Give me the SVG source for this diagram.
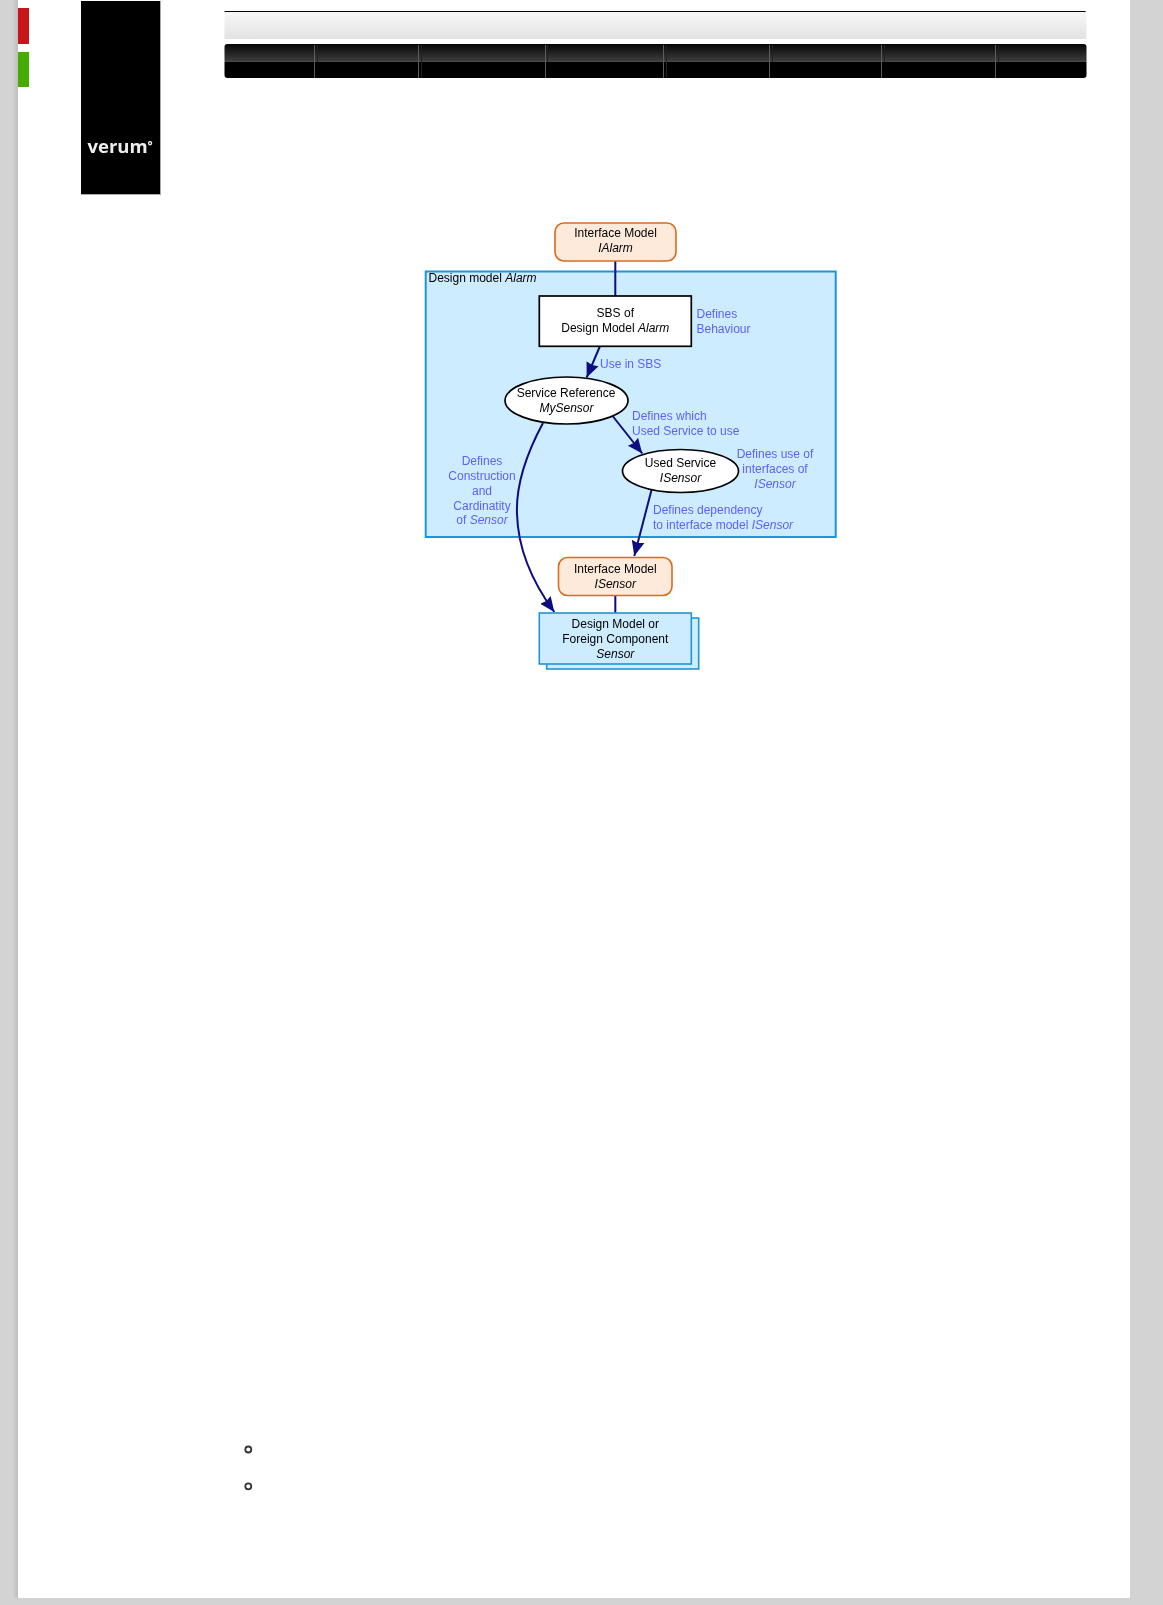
<svg xmlns="http://www.w3.org/2000/svg" width="1163" height="1605" viewBox="0 0 1163 1605">
<style>
text{font-family:"Liberation Sans",Arial,sans-serif;font-size:12px;fill:#000}
.c{text-anchor:middle}
.b{fill:#5f5fff}
.i{font-style:italic}
.if{fill:#feeadb;stroke:#dd6a1f;stroke-width:1.6}
.blue{fill:#cdecff;stroke:#1e96d6;stroke-width:1.6}
.wh{fill:#fff;stroke:#000;stroke-width:1.7}
.ln{fill:none;stroke:#0a1080;stroke-width:2}
.sep{stroke:#5c5c5c;stroke-width:1;fill:none}
.sep2{stroke:#222;stroke-width:1;fill:none}
.logo{font-family:"Open Sans",sans-serif;font-size:18.500px;font-weight:700;fill:#eee}
</style>
<defs>
<linearGradient id="lg" x1="0" x2="1" y1="0" y2="0"><stop offset="0" stop-color="#d3d3d3"/><stop offset=".7" stop-color="#d3d3d3"/><stop offset="1" stop-color="#bdbdbd"/></linearGradient>
<linearGradient id="hd" x1="0" x2="0" y1="0" y2="1"><stop offset="0" stop-color="#f8f8f8"/><stop offset="1" stop-color="#e2e2e2"/></linearGradient>
<linearGradient id="nav" x1="0" x2="0" y1="0" y2="1"><stop offset="0" stop-color="#050505"/><stop offset=".49" stop-color="#3c3c3c"/><stop offset=".515" stop-color="#4a4a4a"/><stop offset=".53" stop-color="#000"/><stop offset="1" stop-color="#000"/></linearGradient>
<marker id="ah" markerUnits="userSpaceOnUse" markerWidth="17" markerHeight="16" refX="15" refY="7" orient="auto"><path d="M0 0.500L15 7L0 13.500L1.500 7Z" fill="#0a1080"/></marker>
<filter id="soft" filterUnits="userSpaceOnUse" x="400" y="200" width="460" height="490"><feGaussianBlur stdDeviation="0.35"/></filter>
<filter id="soft2" filterUnits="userSpaceOnUse" x="81" y="130" width="80" height="40"><feGaussianBlur stdDeviation="0.4"/></filter>
</defs>
<rect width="1163" height="1605" fill="#fff"/>
<g id="page">
<rect x="0" y="0" width="18" height="1605" fill="url(#lg)"/>
<rect x="1130" y="0" width="33" height="1605" fill="#d3d3d3"/>
<rect x="0" y="1598" width="1163" height="7" fill="#d3d3d3"/>
<rect x="18" y="8" width="11" height="36" fill="#c9161b"/>
<rect x="18" y="52" width="11" height="35" fill="#45ab07"/>
<rect x="81" y="1" width="79.500" height="193.500" fill="#000"/>
<rect x="160" y="1" width="1" height="194" fill="#aaa"/>
<rect x="81" y="194" width="80" height="1" fill="#aaa"/>
<text class="logo" x="87.500" y="153" filter="url(#soft2)">verum<tspan x="147.500" font-size="12" dy="-3">°</tspan></text>
<rect x="224.500" y="11" width="862" height="28" fill="url(#hd)"/>
<rect x="224.500" y="11" width="861" height="1" fill="#000"/>
<rect x="224.500" y="44" width="862" height="34" rx="3" fill="url(#nav)"/>
<path class="sep" d="M314.500 45V78M418.500 45V78M545.500 45V78M663.500 45V78M769.500 45V78M881.500 45V78M995.500 45V78"/>
<path class="sep2" d="M317.500 45V62M421.500 45V78M547.500 45V62M666.500 45V78M772.500 45V62M884.500 45V62M998.500 45V62"/>
<circle cx="248.300" cy="1449.500" r="3" fill="none" stroke="#333" stroke-width="1.800"/>
<circle cx="248.300" cy="1486.300" r="3" fill="none" stroke="#333" stroke-width="1.800"/>
</g>
<g id="diagram" filter="url(#soft)">
<g id="design-model">
<rect class="blue" style="stroke-width:2" x="425.700" y="271.500" width="410" height="265.500"/>
<text x="428.500" y="282">Design model <tspan class="i">Alarm</tspan></text>
</g>
<g id="connectors">
<path class="ln" d="M615.300 260.500V296"/>
<path class="ln" d="M615.300 595V613"/>
<path class="ln" marker-end="url(#ah)" d="M600 346L586.700 377.500"/>
<path class="ln" marker-end="url(#ah)" d="M613 416.500L642.300 453.500"/>
<path class="ln" marker-end="url(#ah)" d="M651.500 490L634.300 556"/>
<path class="ln" marker-end="url(#ah)" d="M543 423C522 462 516 490 517 514C518 550 533 583 554.300 612"/>
</g>
<g id="n-ialarm">
<rect class="if" x="555" y="223" width="121" height="38" rx="9"/>
<text class="c" x="615.500" y="237">Interface Model</text>
<text class="c i" x="615.500" y="252">IAlarm</text>
</g>
<g id="n-sbs">
<rect class="wh" x="539.300" y="296" width="152" height="50.300"/>
<text class="c" x="615.300" y="317">SBS of</text>
<text class="c" x="615.300" y="332">Design Model <tspan class="i">Alarm</tspan></text>
</g>
<g id="n-ref">
<ellipse class="wh" cx="566.500" cy="400.500" rx="61.500" ry="23.500"/>
<text class="c" x="566" y="397">Service Reference</text>
<text class="c i" x="566.500" y="412">MySensor</text>
</g>
<g id="n-used">
<ellipse class="wh" cx="680.500" cy="471" rx="58" ry="21.500"/>
<text class="c" x="680.500" y="467">Used Service</text>
<text class="c i" x="680.500" y="482">ISensor</text>
</g>
<g id="n-isensor">
<rect class="if" x="558.500" y="557.500" width="113.500" height="38" rx="9"/>
<text class="c" x="615.300" y="573">Interface Model</text>
<text class="c i" x="615.300" y="588">ISensor</text>
</g>
<g id="n-component">
<rect class="blue" x="546.700" y="618" width="152" height="51"/>
<rect class="blue" x="539.300" y="613" width="152" height="51"/>
<text class="c" x="615.300" y="628">Design Model or</text>
<text class="c" x="615.300" y="643">Foreign Component</text>
<text class="c i" x="615.300" y="657.500">Sensor</text>
</g>
<g id="labels">
<text class="b" x="696.500" y="318">Defines</text>
<text class="b" x="696.500" y="333">Behaviour</text>
<text class="b" x="600" y="368">Use in SBS</text>
<text class="b" x="632" y="420">Defines which</text>
<text class="b" x="632" y="435">Used Service to use</text>
<text class="b c" x="775" y="458">Defines use of</text>
<text class="b c" x="775" y="473">interfaces of</text>
<text class="b c i" x="775" y="488">ISensor</text>
<text class="b" x="653" y="514">Defines dependency</text>
<text class="b" x="653" y="529">to interface model <tspan class="i">ISensor</tspan></text>
<text class="b c" x="482" y="465">Defines</text>
<text class="b c" x="482" y="480">Construction</text>
<text class="b c" x="482" y="494.500">and</text>
<text class="b c" x="482" y="509.500">Cardinatity</text>
<text class="b c" x="482" y="524">of <tspan class="i">Sensor</tspan></text>
</g>
</g>
</svg>
